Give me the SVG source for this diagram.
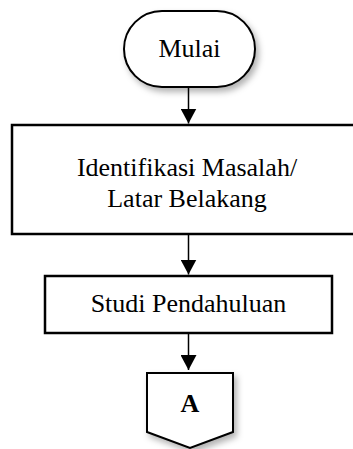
<svg xmlns="http://www.w3.org/2000/svg" width="353" height="449" viewBox="0 0 353 449">
<style>
.shape{fill:#ffffff;stroke:#000000;stroke-width:2}
.box{fill:#ffffff;stroke:#000000;stroke-width:2.5}
.lbl{font-family:"Liberation Serif","Times New Roman",serif;font-size:26px;fill:#000000;text-anchor:middle}
.conn{stroke:#000000;stroke-width:1.5;fill:none}
</style>
<defs>
<filter id="sh" x="-20%" y="-20%" width="150%" height="150%">
<feDropShadow dx="3" dy="4" stdDeviation="3" flood-color="#000000" flood-opacity="0.3"/>
</filter>
<marker id="ah" markerWidth="15" markerHeight="16" refX="15" refY="8" orient="auto" markerUnits="userSpaceOnUse">
<path d="M0,0 L15,8 L0,16 Z" fill="#000000"/>
</marker>
</defs>
<rect width="353" height="449" fill="#ffffff"/>
<g id="connectors">
<line class="conn" x1="188.5" y1="87" x2="188.5" y2="123.5" marker-end="url(#ah)"/>
<line class="conn" x1="188.5" y1="234" x2="188.5" y2="274.5" marker-end="url(#ah)"/>
<line class="conn" x1="188.5" y1="333" x2="188.5" y2="370" marker-end="url(#ah)"/>
</g>
<g id="mulai">
<rect class="shape" x="124" y="11" width="131" height="76" rx="38" ry="38" filter="url(#sh)"/>
<text class="lbl" x="189.5" y="57">Mulai</text>
</g>
<g id="identifikasi">
<rect class="box" x="12" y="125" width="356" height="109"/>
<text class="lbl" x="187" y="176">Identifikasi Masalah/</text>
<text class="lbl" x="187" y="207">Latar Belakang</text>
</g>
<g id="studi">
<rect class="box" x="45" y="276" width="287" height="57"/>
<text class="lbl" x="188.5" y="312">Studi Pendahuluan</text>
</g>
<g id="connector-a">
<path class="shape" d="M147,373 L233,373 L233,432 L190,448 L147,432 Z" filter="url(#sh)"/>
<text class="lbl" x="190" y="412" font-weight="bold">A</text>
</g>
</svg>
